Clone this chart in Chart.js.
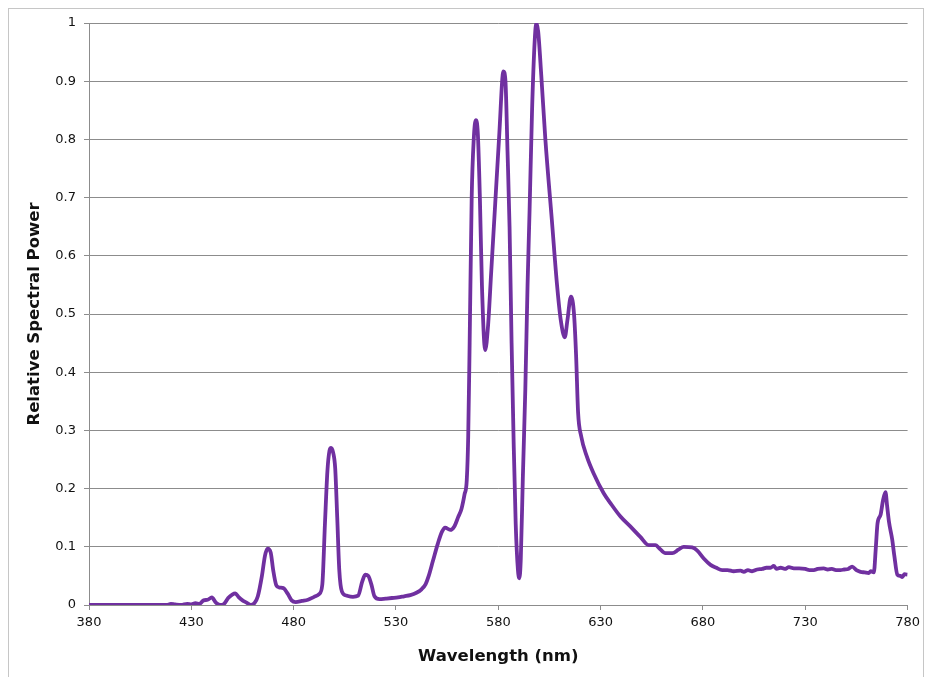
<!DOCTYPE html>
<html>
<head>
<meta charset="utf-8">
<title>Relative Spectral Power</title>
<script src="https://cdn.jsdelivr.net/npm/chart.js@4.4.1/dist/chart.umd.min.js"></script>
<style>
    body { margin: 0; background: #fff; }
    #wrap { position: relative; width: 925px; height: 677px; overflow: hidden; }
    #frame { position: absolute; left: 8px; top: 8px; width: 914px; height: 700px; border: 1px solid #c6c6c6; }
    #myChart { position: absolute; left: 0; top: 0; }
</style>
</head>
<body>
<div id="wrap">
    <div id="frame"></div>
    <canvas id="myChart" width="925" height="677"></canvas>
</div>
<script>
// wavelength (nm)
const wavelengths = [
    380, 390, 400, 410, 418, 420, 422, 425, 428, 430, 432, 434, 436, 438, 440, 442, 444, 446, 448, 450,
    451.5, 453, 455, 457, 459, 461, 462.5, 464.5, 466, 467.3, 468.8, 470, 471.5, 473, 475, 477, 479, 481, 484, 487,
    490, 492.5, 494, 495.3, 496.5, 497.5, 498.3, 499.3, 500.3, 501.3, 502.3, 503.6, 506, 509, 511.5, 513.5, 515, 516.5, 518, 519.5,
    522, 525, 528, 531, 534, 537, 540, 542.5, 544.5, 546, 548, 550.5, 552.5, 554, 556.5, 558.5, 560.5, 562, 563.5, 564.6,
    565.3, 566, 567, 568, 569, 570, 571, 572, 573.6, 575, 576.5, 578.5, 580.5, 582.5, 583.5, 584.5, 585.5, 586.5, 587.5, 588.5,
    589.6, 590.3, 591, 592, 593.2, 594.3, 595.3, 596.5, 597.8, 598.6, 599.5, 601, 603, 606.2, 608.7, 610.5, 612.5, 613.8, 615.5, 617,
    618, 619, 620.5, 623.3, 626.6, 631.5, 634.8, 639.7, 644.5, 649.4, 653.5, 656.8, 658.5, 661.7, 665, 668, 670.6, 674.7, 677.1, 680.4,
    683.7, 686.5, 689.4, 692, 695, 698.4, 700, 702, 704, 706.5, 709, 711, 713, 714.6, 716, 718, 720, 722, 724.4, 727,
    730, 732, 734.2, 736, 739, 741, 743, 745, 747.2, 749, 751, 752.9, 755, 757, 759, 761, 762, 763.5, 764.5, 765.3,
    766.8, 768, 769.2, 770, 770.9, 772.5, 773.5, 775, 776.5, 777.4, 778.5, 780
];

// relative spectral power at each wavelength
const powerValues = [
    0, 0, 0, 0, 0, 0.002, 0.001, 0, 0.002, 0.001, 0.003, 0.002, 0.008, 0.009, 0.013, 0.004, 0.0, 0.002, 0.012, 0.018,
    0.020, 0.014, 0.008, 0.004, 0.0, 0.004, 0.015, 0.05, 0.085, 0.097, 0.09, 0.06, 0.034, 0.03, 0.029, 0.02, 0.008, 0.005, 0.007, 0.009,
    0.014, 0.019, 0.035, 0.14, 0.23, 0.265, 0.27, 0.262, 0.235, 0.15, 0.06, 0.023, 0.016, 0.014, 0.016, 0.04, 0.052, 0.05, 0.035, 0.015,
    0.010, 0.011, 0.012, 0.013, 0.015, 0.017, 0.021, 0.027, 0.036, 0.05, 0.075, 0.106, 0.126, 0.133, 0.129, 0.135, 0.152, 0.165, 0.19, 0.215,
    0.29, 0.45, 0.70, 0.80, 0.833, 0.81, 0.70, 0.55, 0.438, 0.48, 0.57, 0.69, 0.81, 0.917, 0.90, 0.78, 0.65, 0.45, 0.28, 0.14,
    0.06, 0.046, 0.08, 0.22, 0.37, 0.55, 0.68, 0.85, 0.97, 1.0, 0.985, 0.91, 0.80, 0.66, 0.55, 0.49, 0.46, 0.49, 0.53, 0.50,
    0.43, 0.33, 0.29, 0.255, 0.226, 0.192, 0.175, 0.152, 0.135, 0.117, 0.103, 0.103, 0.098, 0.089, 0.089, 0.095, 0.100, 0.099, 0.094, 0.080,
    0.069, 0.064, 0.060, 0.060, 0.058, 0.059, 0.057, 0.060, 0.058, 0.061, 0.062, 0.064, 0.064, 0.067, 0.062, 0.064, 0.062, 0.065, 0.063, 0.063,
    0.062, 0.060, 0.060, 0.062, 0.063, 0.061, 0.062, 0.060, 0.060, 0.061, 0.062, 0.066, 0.060, 0.057, 0.056, 0.055, 0.058, 0.056, 0.10, 0.14,
    0.155, 0.18, 0.194, 0.17, 0.143, 0.112, 0.085, 0.052, 0.050, 0.048, 0.053, 0.052
];

const xTicks = [380, 430, 480, 530, 580, 630, 680, 730, 780];

const lineColor = "#7030a0";
const axisColor = "#8c8c8c";

new Chart("myChart", {
    type: "line",
    data: {
        datasets: [{
            data: wavelengths.map((w, i) => ({ x: w, y: powerValues[i] })),
            borderColor: lineColor,
            borderWidth: 3.8,
            pointRadius: 0,
            fill: false,
            cubicInterpolationMode: "monotone"
        }]
    },
    options: {
        responsive: false,
        animation: false,
        layout: { padding: { left: 0, right: 17, top: 23, bottom: 0 } },
        plugins: {
            legend: { display: false },
            tooltip: { enabled: false }
        },
        scales: {
            x: {
                type: "linear",
                min: 380,
                max: 780,
                afterBuildTicks: (scale) => {
                    scale.ticks = xTicks.map(v => ({ value: v }));
                },
                afterFit: (scale) => { scale.height = 72; },
                grid: { drawOnChartArea: false, drawTicks: true, tickLength: 5, color: axisColor },
                border: { display: true, color: axisColor },
                ticks: {
                    color: "#111",
                    padding: 5,
                    maxRotation: 0,
                    font: { family: "DejaVu Sans", size: 13 }
                },
                title: {
                    display: true,
                    text: "Wavelength (nm)",
                    color: "#111",
                    padding: { top: 0, bottom: 10 },
                    font: { family: "DejaVu Sans", size: 16.5, weight: "bold" }
                }
            },
            y: {
                min: 0,
                max: 1,
                afterFit: (scale) => { scale.width = 89; },
                grid: { color: axisColor, tickLength: 5 },
                border: { display: true, color: axisColor },
                ticks: {
                    stepSize: 0.1,
                    color: "#111",
                    padding: 8,
                    font: { family: "DejaVu Sans", size: 13 },
                    callback: (v) => Math.round(v * 10) / 10
                },
                title: {
                    display: true,
                    text: "Relative Spectral Power",
                    color: "#111",
                    padding: { top: 25, bottom: 0 },
                    font: { family: "DejaVu Sans", size: 16.5, weight: "bold" }
                }
            }
        }
    }
});
</script>
</body>
</html>
